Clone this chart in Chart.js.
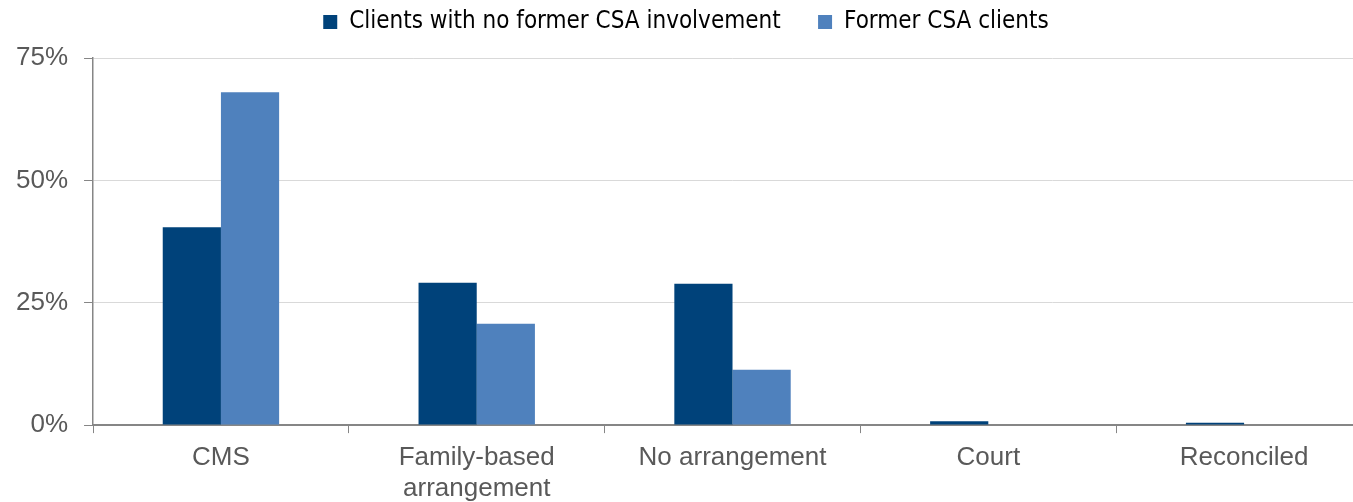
<!DOCTYPE html>
<html>
<head>
<meta charset="utf-8">
<script src="https://cdn.jsdelivr.net/npm/chart.js@4/dist/chart.umd.min.js"></script>
<style>
  html, body { margin: 0; padding: 0; background: #fff; overflow: hidden; }
  #wrap { width: 1372px; height: 502px; position: relative; }
</style>
</head>
<body>
<div id="wrap"><canvas id="chart"></canvas></div>
<script>
// categories and series
const categories = ["CMS", ["Family-based", "arrangement"], "No arrangement", "Court", "Reconciled"];
const noFormerCSA = [40.4, 29.1, 28.9, 0.8, 0.5];
const formerCSA = [68.0, 20.7, 11.3, 0, 0];
const yTicks = [0, 25, 50, 75];

const ctx = document.getElementById("chart").getContext("2d");

// give the legend a bit more room below it
const legendGap = {
  id: "legendGap",
  afterInit(chart) {
    const fit = chart.legend.fit;
    chart.legend.fit = function () {
      fit.call(this);
      this.height += 14;
    };
  },
};

new Chart(ctx, {
  type: "bar",
  data: {
    labels: categories,
    datasets: [
      { label: "Clients with no former CSA involvement", data: noFormerCSA, backgroundColor: "#00427A" },
      { label: "Former CSA clients", data: formerCSA, backgroundColor: "#4F81BD" },
    ],
  },
  plugins: [legendGap],
  options: {
    responsive: true,
    maintainAspectRatio: false,
    animation: false,
    categoryPercentage: 0.455,
    barPercentage: 1,
    layout: { padding: { top: 0, left: 0, right: 0, bottom: -11 } },
    plugins: {
      tooltip: { enabled: false },
      legend: {
        position: "top",
        labels: {
          boxWidth: 14,
          boxHeight: 14,
          padding: 10,
          color: "#000",
          font: { family: "'DejaVu Sans Condensed', 'Liberation Sans Narrow', sans-serif", size: 24 },
          generateLabels: (chart) => {
            const items = Chart.defaults.plugins.legend.labels.generateLabels(chart);
            // widen the gap between the two entries
            items.forEach((it, i) => { if (i < items.length - 1) it.text += "    "; });
            return items;
          },
        },
      },
    },
    scales: {
      x: {
        grid: {
          offset: true,
          drawOnChartArea: false,
          tickLength: 8,
          tickColor: "#868686",
        },
        border: { color: "#868686", width: 2 },
        ticks: {
          color: "#595959",
          font: { family: "'Liberation Sans', Arial, sans-serif", size: 26, lineHeight: 1.19 },
          padding: 9,
          maxRotation: 0,
        },
      },
      y: {
        min: 0,
        max: 75,
        afterBuildTicks: (axis) => { axis.ticks = yTicks.map((v) => ({ value: v })); },
        grid: {
          color: "#D9D9D9",
          tickColor: "#868686",
          tickLength: 9,
        },
        border: { color: "#868686", width: 1.5 },
        ticks: {
          color: "#595959",
          font: { family: "'Liberation Sans', Arial, sans-serif", size: 26 },
          padding: 16,
          callback: (v) => v + "%",
        },
      },
    },
  },
});
</script>
</body>
</html>
